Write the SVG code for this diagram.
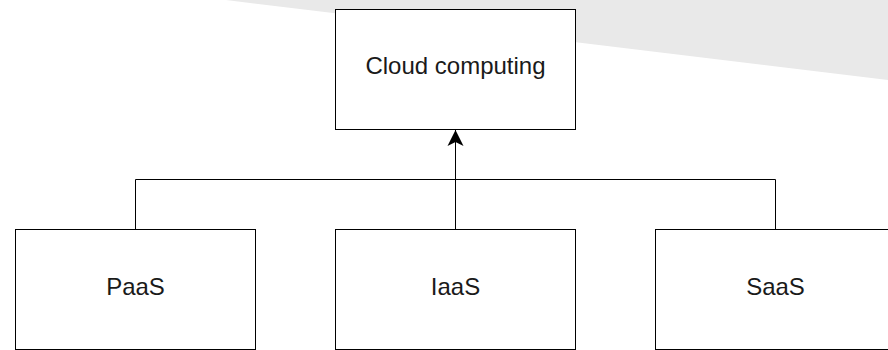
<svg xmlns="http://www.w3.org/2000/svg" width="888" height="350" viewBox="0 0 888 350">
  <style>
    .box { fill: #ffffff; stroke: #000000; stroke-width: 1; }
    .lbl { font-family: "Liberation Sans", Arial, Helvetica, sans-serif; font-size: 24px; fill: #1a1a1a; text-anchor: middle; }
    .edge { fill: none; stroke: #000000; stroke-width: 1; }
  </style>
  <defs>
    <marker id="arrow" markerUnits="userSpaceOnUse" markerWidth="20" markerHeight="20" refX="0" refY="0" viewBox="-19 -10 20 20" orient="auto">
      <path d="M0,0 L-16,-8 L-12,0 L-16,8 Z" fill="#000000"/>
    </marker>
  </defs>
  <rect width="888" height="350" fill="#ffffff"/>
  <polygon points="226,0 888,0 888,80" fill="#e9e9e9"/>
  <g id="connectors">
    <path class="edge" d="M135.5,229.5 V179.5 H775.5 V229.5"/>
    <path class="edge" d="M455.5,229.5 V130" marker-end="url(#arrow)"/>
  </g>
  <g id="cloud">
    <rect class="box" x="335.5" y="9.5" width="240" height="120"/>
    <text class="lbl" x="455.5" y="74">Cloud computing</text>
  </g>
  <g id="paas">
    <rect class="box" x="15.5" y="229.5" width="240" height="120"/>
    <text class="lbl" x="135.5" y="295">PaaS</text>
  </g>
  <g id="iaas">
    <rect class="box" x="335.5" y="229.5" width="240" height="120"/>
    <text class="lbl" x="455.5" y="295">IaaS</text>
  </g>
  <g id="saas">
    <rect class="box" x="655.5" y="229.5" width="240" height="120"/>
    <text class="lbl" x="775.5" y="295">SaaS</text>
  </g>
</svg>
